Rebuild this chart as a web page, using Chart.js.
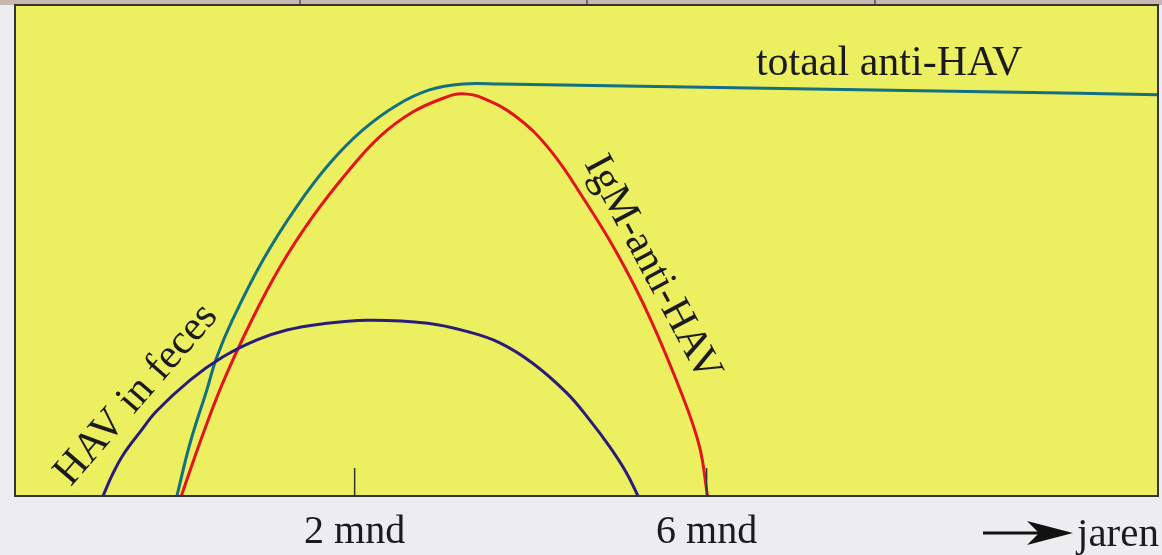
<!DOCTYPE html>
<html>
<head>
<meta charset="utf-8">
<script src="https://cdn.jsdelivr.net/npm/chart.js@4.4.1/dist/chart.umd.min.js"></script>
<style>
  html, body { margin: 0; padding: 0; background: #ededef; }
  #wrap { width: 1162px; height: 555px; }
</style>
</head>
<body>
<div id="wrap"><canvas id="myChart" width="1162" height="555"></canvas></div>
<script>
// time in months after infection, level in arbitrary units (0-100)
const fecesX = [-0.86, -0.76, -0.63, -0.44, -0.25, 0.13, 0.50, 0.89, 1.23, 1.60, 2.14, 2.83, 3.30, 3.65, 4.02, 4.41, 4.67, 4.90, 5.09, 5.22];
const fecesY = [0, 4.1, 8.4, 13.0, 17.3, 23.6, 28.3, 31.8, 33.8, 35.0, 35.8, 35.2, 33.4, 31.2, 27.1, 21.0, 15.5, 10.0, 4.7, 0];

const totalX = [-0.02, 0.13, 0.32, 0.43, 0.61, 0.96, 1.34, 1.72, 2.09, 2.48, 2.85, 3.23, 3.65, 6.49, 9.33, 11.13];
const totalY = [0, 10.8, 21.6, 28.1, 35.8, 48.1, 58.9, 67.8, 74.5, 79.6, 82.7, 83.9, 83.9, 83.1, 82.3, 81.7];

const igmX = [0.03, 0.24, 0.50, 0.83, 1.15, 1.52, 1.91, 2.28, 2.66, 3.05, 3.22, 3.45, 3.84, 4.22, 4.59, 4.98, 5.35, 5.73, 5.92, 6.01];
const igmY = [0, 10.8, 23.0, 35.8, 46.6, 56.8, 65.8, 73.1, 78.2, 81.3, 81.9, 81.1, 77.2, 70.5, 60.9, 49.5, 36.5, 20.2, 10.0, 0];

const tickValues = [2, 6];
const tickLabels = ['2 mnd', '6 mnd'];

const toPoints = (xs, ys) => xs.map((x, i) => ({ x: x, y: ys[i] }));

const serif = '"Liberation Serif", "Times New Roman", serif';
const ink = '#1a1a1f';

const paper = {
    id: 'paper',
    beforeDraw(chart) {
        const { ctx, chartArea: a, width, height } = chart;
        ctx.save();
        ctx.fillStyle = '#ededef';
        ctx.fillRect(0, 0, width, height);
        // strip of the figure above
        ctx.fillStyle = '#c9b7b1';
        ctx.fillRect(0, 0, width, a.top);
        ctx.strokeStyle = '#555';
        ctx.lineWidth = 1.5;
        [300, 587, 875].forEach(px => {
            ctx.beginPath();
            ctx.moveTo(px, 0);
            ctx.lineTo(px, a.top);
            ctx.stroke();
        });
        ctx.fillStyle = '#ecf060';
        ctx.fillRect(a.left, a.top, a.right - a.left, a.bottom - a.top);
        ctx.restore();
    },
    afterDatasetsDraw(chart) {
        const { ctx, chartArea: a } = chart;
        const xs = chart.scales.x, ys = chart.scales.y;
        ctx.save();
        ctx.strokeStyle = '#333';
        ctx.lineWidth = 2;
        ctx.strokeRect(a.left, a.top, a.right - a.left, a.bottom - a.top);

        // tick marks standing inside the plot
        ctx.lineWidth = 1.5;
        tickValues.forEach(v => {
            const px = xs.getPixelForValue(v);
            ctx.beginPath();
            ctx.moveTo(px, a.bottom);
            ctx.lineTo(px, a.bottom - 28);
            ctx.stroke();
        });

        ctx.fillStyle = ink;
        ctx.font = '42px ' + serif;
        ctx.textBaseline = 'alphabetic';
        ctx.textAlign = 'left';
        ctx.fillText('totaal anti-HAV', xs.getPixelForValue(6.56), ys.getPixelForValue(85.7));

        ctx.textAlign = 'center';
        ctx.textBaseline = 'middle';
        ctx.save();
        ctx.translate(xs.getPixelForValue(5.38), ys.getPixelForValue(46.4));
        ctx.rotate(62 * Math.PI / 180);
        ctx.fillText('IgM-anti-HAV', 0, 0);
        ctx.restore();

        ctx.save();
        ctx.translate(xs.getPixelForValue(-0.48), ys.getPixelForValue(20.6));
        ctx.rotate(-49 * Math.PI / 180);
        ctx.fillText('HAV in feces', 0, 0);
        ctx.restore();

        // arrow towards "jaren"
        const ay = 533, tip = a.right - 85;
        ctx.strokeStyle = '#111';
        ctx.lineWidth = 3;
        ctx.beginPath();
        ctx.moveTo(a.right - 175, ay);
        ctx.lineTo(tip - 30, ay);
        ctx.stroke();
        ctx.fillStyle = '#111';
        ctx.beginPath();
        ctx.moveTo(tip, ay);
        ctx.lineTo(tip - 46, ay - 12);
        ctx.lineTo(tip - 34, ay);
        ctx.lineTo(tip - 46, ay + 12);
        ctx.closePath();
        ctx.fill();
        ctx.fillStyle = ink;
        ctx.font = '41px ' + serif;
        ctx.textAlign = 'left';
        ctx.textBaseline = 'alphabetic';
        ctx.fillText('jaren', tip + 4, 546);
        ctx.restore();
    }
};

const lineStyle = {
    pointRadius: 0,
    borderWidth: 3,
    fill: false,
    tension: 0.4
};

const ctx = document.getElementById('myChart');
const myChart = new Chart(ctx, {
    type: 'line',
    data: {
        datasets: [
            { label: 'HAV in feces', data: toPoints(fecesX, fecesY), borderColor: '#2b1c7a', ...lineStyle },
            { label: 'totaal anti-HAV', data: toPoints(totalX, totalY), borderColor: '#137080', ...lineStyle },
            { label: 'IgM-anti-HAV', data: toPoints(igmX, igmY), borderColor: '#e3141c', ...lineStyle }
        ]
    },
    options: {
        responsive: false,
        animation: false,
        layout: { padding: { left: 15, right: 4, top: 5, bottom: -13 } },
        plugins: { legend: { display: false }, tooltip: { enabled: false } },
        scales: {
            x: {
                type: 'linear',
                min: -1.86,
                max: 11.13,
                grid: { display: false, drawTicks: false },
                border: { display: false },
                afterBuildTicks: scale => { scale.ticks = tickValues.map(v => ({ value: v })); },
                ticks: {
                    autoSkip: false,
                    maxRotation: 0,
                    padding: 14,
                    color: ink,
                    font: { family: serif, size: 40, lineHeight: 1.1 },
                    callback: (value, index) => tickLabels[index]
                }
            },
            y: { display: false, min: 0, max: 100 }
        }
    },
    plugins: [paper]
});
</script>
</body>
</html>
